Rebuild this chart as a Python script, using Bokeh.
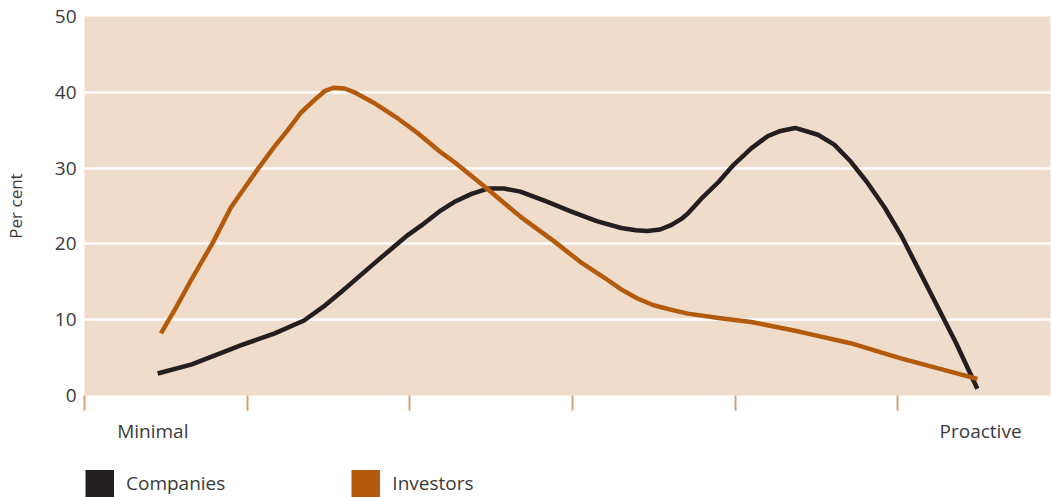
from bokeh.plotting import figure
from bokeh.layouts import column
from bokeh.models import FixedTicker, Legend, LegendItem
from bokeh.embed import file_html
from bokeh.resources import INLINE

# ---- data (x: position on the Minimal -> Proactive scale, in tick steps) ----
companies_x = [0.45, 0.66, 0.96, 1.17, 1.35, 1.48, 1.58, 1.78, 1.89, 1.99, 2.07,
               2.19, 2.28, 2.38, 2.48, 2.58, 2.68, 2.84, 2.99, 3.15, 3.30, 3.39,
               3.46, 3.54, 3.61, 3.67, 3.71, 3.79, 3.90, 3.99, 4.10, 4.20, 4.28,
               4.37, 4.51, 4.61, 4.71, 4.81, 4.92, 5.02, 5.12, 5.22, 5.36, 5.49]
companies_y = [2.9, 4.1, 6.6, 8.2, 9.9, 11.9, 13.7, 17.4, 19.4, 21.2, 22.4,
               24.4, 25.6, 26.6, 27.3, 27.3, 26.9, 25.6, 24.3, 23.0, 22.1, 21.8,
               21.7, 21.9, 22.5, 23.3, 24.0, 25.9, 28.2, 30.4, 32.6, 34.2, 34.9,
               35.3, 34.4, 33.1, 30.9, 28.2, 24.8, 21.2, 17.0, 12.8, 6.9, 0.9]

investors_x = [0.47, 0.56, 0.66, 0.79, 0.90, 1.07, 1.17, 1.25, 1.33, 1.42, 1.48,
               1.53, 1.60, 1.66, 1.78, 1.91, 2.05, 2.19, 2.28, 2.48, 2.68, 2.89,
               3.05, 3.20, 3.30, 3.40, 3.50, 3.61, 3.71, 3.91, 4.10, 4.40, 4.71,
               5.02, 5.49]
investors_y = [8.2, 11.5, 15.4, 20.2, 24.8, 30.0, 32.9, 35.0, 37.3, 39.1, 40.2,
               40.6, 40.5, 40.0, 38.6, 36.8, 34.6, 32.1, 30.7, 27.2, 23.6, 20.3,
               17.6, 15.5, 14.0, 12.8, 11.9, 11.3, 10.8, 10.2, 9.7, 8.4, 6.9,
               4.9, 2.2]

series_names = ["Companies", "Investors"]
series_colors = ["#231f20", "#b35a0d"]
scale_labels = ["Minimal", "Proactive"]
category_ticks = [0, 1, 2, 3, 4, 5]
y_ticks = [0, 10, 20, 30, 40, 50]

FONT = "Open Sans"
TEXT = "#3a3a3a"

p = figure(width=1051, height=460, output_backend="svg", toolbar_location=None,
           x_range=(0, 5.94), y_range=(0, 50),
           min_border_left=83, min_border_right=1, min_border_top=16,
           min_border_bottom=65)
p.background_fill_color = "#f0dccb"
p.border_fill_color = "white"
p.outline_line_color = None

# grid
p.xgrid.grid_line_color = None
p.ygrid.ticker = FixedTicker(ticks=y_ticks)
p.ygrid.grid_line_color = "white"
p.ygrid.grid_line_width = 2.5

# y axis
ya = p.yaxis[0]
ya.ticker = FixedTicker(ticks=y_ticks)
ya.axis_line_color = None
ya.major_tick_line_color = None
ya.minor_tick_line_color = None
ya.major_tick_out = 0
ya.major_label_standoff = 8
ya.major_label_text_font = FONT
ya.major_label_text_font_size = "19px"
ya.major_label_text_color = TEXT
ya.axis_label = "Per cent"
ya.axis_label_text_font = FONT
ya.axis_label_text_font_size = "17px"
ya.axis_label_text_font_style = "normal"
ya.axis_label_text_color = TEXT
ya.axis_label_standoff = 25

# x axis: tan tick marks at the scale steps, end labels near the data ends
xa = p.xaxis[0]
label_pos = [companies_x[0] - 0.03, companies_x[-1] + 0.02]
xa.ticker = FixedTicker(ticks=label_pos, minor_ticks=category_ticks)
xa.major_label_overrides = {label_pos[0]: scale_labels[0], label_pos[1]: scale_labels[1]}
xa.axis_line_color = None
xa.major_tick_line_color = None
xa.major_tick_out = 15
xa.major_tick_in = 0
xa.minor_tick_line_color = "#d4a27a"
xa.minor_tick_line_width = 2
xa.minor_tick_out = 15
xa.minor_tick_in = 0
xa.major_label_standoff = 7
xa.major_label_text_font = FONT
xa.major_label_text_font_size = "19px"
xa.major_label_text_color = TEXT

# lines
p.line(companies_x, companies_y, line_color=series_colors[0], line_width=4.5,
       line_join="round", line_cap="butt")
p.line(investors_x, investors_y, line_color=series_colors[1], line_width=4.5,
       line_join="round", line_cap="butt")

# ---- legend strip below the chart (swatches drawn as thick legend strokes) ----
p2 = figure(width=1051, height=37, output_backend="svg", toolbar_location=None,
            x_axis_type=None, y_axis_type=None,
            min_border_left=0, min_border_right=0, min_border_top=0, min_border_bottom=0)
p2.outline_line_color = None
p2.xgrid.grid_line_color = None
p2.ygrid.grid_line_color = None
p2.background_fill_color = "white"
p2.border_fill_color = "white"

sw_comp = p2.line(companies_x, companies_y, line_color=series_colors[0],
                  line_width=27, line_cap="butt", visible=False)
sw_inv = p2.line(investors_x, investors_y, line_color=series_colors[1],
                 line_width=27, line_cap="butt", visible=False)

legend = Legend(items=[LegendItem(label=series_names[0], renderers=[sw_comp]),
                       LegendItem(label=series_names[1], renderers=[sw_inv])],
                orientation="horizontal", location=(1, -1),
                glyph_width=29, glyph_height=30, label_standoff=12, spacing=126,
                padding=0, margin=0, border_line_color=None, background_fill_alpha=0,
                label_text_font=FONT, label_text_font_size="19px", label_text_color=TEXT)
p2.add_layout(legend, "center")

open("out.html", "w").write(file_html(column(p, p2, spacing=0), INLINE))
